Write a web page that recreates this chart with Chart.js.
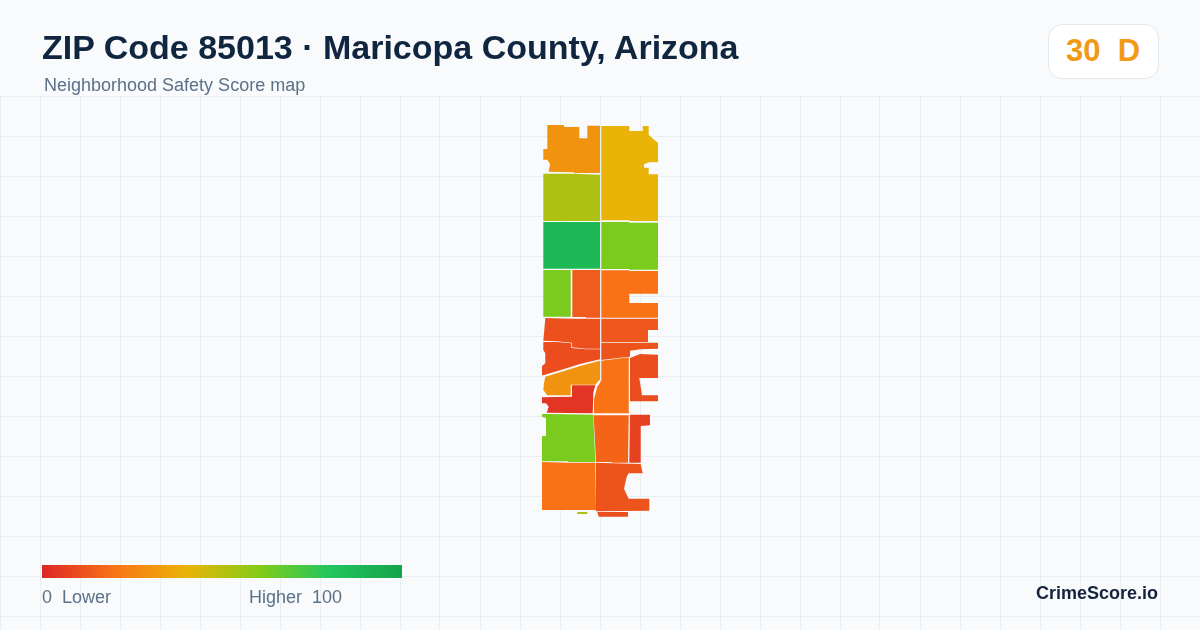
<!DOCTYPE html>
<html>
<head>
<meta charset="utf-8">
<title>ZIP Code 85013</title>
<script src="https://cdn.jsdelivr.net/npm/chart.js@4"></script>
<style>
  html, body { margin: 0; padding: 0; }
  body { width: 1200px; height: 630px; position: relative; overflow: hidden; background: #f8fafb; font-family: "Liberation Sans", Arial, sans-serif; }
  canvas { position: absolute; left: 0; top: 0; }
  .txt { position: absolute; white-space: pre; line-height: 1; }
  #title { left: 42px; top: 30px; font-size: 34px; font-weight: 700; color: #0f2540; }
  #subtitle { left: 44px; top: 76px; font-size: 18px; color: #5b7089; }
  #badge { position: absolute; left: 1048px; top: 24px; width: 109px; height: 53px; background: #fff; border: 1px solid #e2e8f0; border-radius: 14px; }
  #score { left: 1066px; top: 35px; font-size: 31px; font-weight: 700; color: #f29a16; }
  #rampbar { position: absolute; left: 42px; top: 565px; width: 360px; height: 13px; }
  #low { left: 42px; top: 588px; font-size: 18px; color: #5b7089; }
  #high { left: 249px; top: 588px; font-size: 18px; color: #5b7089; }
  #brand { left: 1036px; top: 584px; font-size: 18px; font-weight: 700; color: #14233b; }
</style>
</head>
<body>
<canvas id="map" width="1200" height="630"></canvas>
<div class="txt" id="title">ZIP Code 85013 · Maricopa County, Arizona</div>
<div class="txt" id="subtitle">Neighborhood Safety Score map</div>
<div id="badge"></div>
<div class="txt" id="score">30  D</div>
<div id="rampbar"></div>
<div class="txt" id="low">0  Lower</div>
<div class="txt" id="high">Higher  100</div>
<div class="txt" id="brand">CrimeScore.io</div>
<script>
// score ramp
const rampStops = [0, 20, 40, 60, 80, 100];
const rampColors = ['#dc2626', '#f97316', '#eab308', '#84cc16', '#22c55e', '#16a34a'];

// grid lines, same units as the outlines
const gridX = [0, 40, 80, 120, 160, 200, 240, 280, 320, 360, 400, 440, 480, 520, 560, 600, 640, 680, 720, 760, 800, 840, 880, 920, 960, 1000, 1040, 1080, 1120, 1160, 1200];
const gridY = [96, 136, 176, 216, 256, 296, 336, 376, 416, 456, 496, 536, 576, 616];

// tract scores and outlines
const tractScores = [30, 40, 52, 87, 62, 62, 14, 20, 11, 13, 10, 12, 30, 4, 20, 10, 62, 16, 7, 20, 52, 12, 10];

const northWest = [[547.3,125],[564,125],[564,127],[579.3,127],[579.3,138.3],[587.3,138.3],[587.3,125.7],[600,125.7],[600,173],[574,173],[574,172.3],[548.7,171.7],[550,164.3],[547.3,159.7],[543.3,159.7],[543.3,149],[547.3,149]];
const northEast = [[601.3,126],[629.3,126],[629.3,131],[642.7,131],[642.7,126],[648.7,126],[648.7,135],[658,143],[658,162.3],[649.3,162.3],[644,164.3],[644,167.7],[648.7,167.7],[648.7,174.3],[658,174.3],[658,221],[629.3,221],[629.3,220.3],[601.3,220.3]];
const secondWest = [[543.3,173.7],[574,173.7],[600,174.7],[600,221],[543.3,221]];
const thirdWest = [[543.3,222],[600,222],[600,268.7],[543.3,268.7]];
const thirdEast = [[601.3,222],[629.3,222],[629.3,222.7],[658,222.7],[658,269.7],[629.3,269.7],[629.3,269],[601.3,269]];
const fourthWest = [[543.3,270],[570.7,270],[570.7,316.7],[543.3,316.7]];
const fourthMid = [[572.3,270],[600,270],[600,317.7],[586,317.7],[586,317],[572.3,317]];
const fourthEast = [[601.3,270.3],[629.3,270.3],[629.3,271],[658,271],[658,293.7],[629.3,293.7],[629.3,303],[658,303],[658,317.7],[601.3,317.7]];
const fifthWest = [[545.3,318],[572,318.7],[600,318.7],[600,348.7],[586,348.7],[572,347.3],[572,342.7],[556.7,341.3],[543.3,340.7],[544,333.3]];
const fifthEast = [[601.3,318.7],[658,318.7],[658,330],[648,330],[648,342],[601.3,342]];
const sixthWest = [[543.3,342],[556.7,342],[571.3,343.3],[571.3,348],[586,349.3],[600,349.3],[600,359.3],[580,364],[563.3,369.3],[543.3,375.3],[542,375.3],[542,366],[545.3,363.3],[545.3,353.3],[543.3,350]];
const sixthEast = [[601.3,342.7],[658,342.7],[658,348.7],[640.7,349.3],[630,350.7],[630,356.7],[628.7,356.7],[601.3,360]];
const ambersWedge = [[545.3,376.7],[563.3,371.3],[580,366],[600,360.7],[600,379.3],[595.3,384.7],[570.7,384.7],[570.7,395.3],[547.3,395.3],[543.3,390],[544,383.3]];
const redBlock = [[572,385.3],[595.3,385.3],[593.3,392.7],[592.7,413.3],[546.7,412.7],[548.7,406.7],[546,403.3],[542,403.3],[542,397.3],[570.7,396.7],[572,396.7]];
const midColumn = [[601.3,360.7],[628.7,357.3],[628.7,411.3],[629.3,413.3],[594,413.3],[594,399.3],[597.3,386.7],[601.3,380.7]];
const eastNotch = [[630,358],[640,354],[658,354.7],[658,378],[639.3,378],[642,395.3],[658,395.3],[658,401.3],[630,401.3]];
const southWest = [[542,414],[548,414],[593.3,414.7],[595.3,462],[568,462],[568,461.3],[542,461.3],[542,436],[546,436],[546,418],[542,416.7]];
const southMid = [[593.7,415.3],[628.7,415.3],[628,462.7],[612,462.7],[612,462],[596,462]];
const southEast = [[630,414.7],[650,414.7],[650,425.3],[640.7,426],[640.7,462.7],[629.3,462.7]];
const lastWest = [[542,462],[568,462.7],[595.3,462.7],[596,510],[542,510]];
const sliverWest = [[577.3,512],[587.3,512],[587.3,514],[577.3,514]];
const lastEast = [[596,462.7],[612,463.3],[640.7,464],[642.7,473.3],[628.7,473.3],[626.7,476.7],[624,488.7],[628.7,498.7],[649.3,498.7],[649.3,510.7],[596.7,511.3]];
const sliverEast = [[597.3,512],[628,512],[628,516.7],[598.7,516.7]];

const tractOutlines = [northWest, northEast, secondWest, thirdWest, thirdEast, fourthWest, fourthMid, fourthEast, fifthWest, fifthEast, sixthWest, sixthEast, ambersWedge, redBlock, midColumn, eastNotch, southWest, southMid, southEast, lastWest, sliverWest, lastEast, sliverEast];

function hexToRgb(hex) {
  return [1, 3, 5].map(i => parseInt(hex.slice(i, i + 2), 16));
}

function scoreColor(score) {
  let i = 0;
  while (i < rampStops.length - 2 && score > rampStops[i + 1]) i++;
  const t = (score - rampStops[i]) / (rampStops[i + 1] - rampStops[i]);
  const a = hexToRgb(rampColors[i]);
  const b = hexToRgb(rampColors[i + 1]);
  const c = a.map((v, k) => Math.round(v + (b[k] - v) * t));
  return `rgb(${c[0]}, ${c[1]}, ${c[2]})`;
}

document.getElementById('rampbar').style.background =
  `linear-gradient(to right, ${rampColors.map((c, i) => `${c} ${rampStops[i]}%`).join(', ')})`;

const datasets = tractOutlines.map((outline, i) => ({
  data: outline.concat([outline[0]]).map(p => ({ x: p[0], y: p[1] })),
  showLine: true,
  fill: 'shape',
  tension: 0,
  backgroundColor: scoreColor(tractScores[i]),
  borderColor: scoreColor(tractScores[i]),
  borderWidth: 0,
  pointRadius: 0
}));

new Chart(document.getElementById('map'), {
  type: 'scatter',
  data: { datasets },
  options: {
    responsive: false,
    animation: false,
    devicePixelRatio: 1,
    layout: { padding: { top: 96 } },
    plugins: { legend: { display: false }, tooltip: { enabled: false } },
    scales: {
      x: {
        type: 'linear', min: 0, max: 1200,
        afterBuildTicks: axis => { axis.ticks = gridX.map(value => ({ value })); },
        ticks: { display: false },
        border: { display: false },
        grid: { color: '#e8eef1', lineWidth: 1, drawTicks: false }
      },
      y: {
        type: 'linear', min: 96, max: 630, reverse: true,
        afterBuildTicks: axis => { axis.ticks = gridY.map(value => ({ value })); },
        ticks: { display: false },
        border: { display: false },
        grid: { color: '#e8eef1', lineWidth: 1, drawTicks: false }
      }
    }
  }
});
</script>
</body>
</html>
